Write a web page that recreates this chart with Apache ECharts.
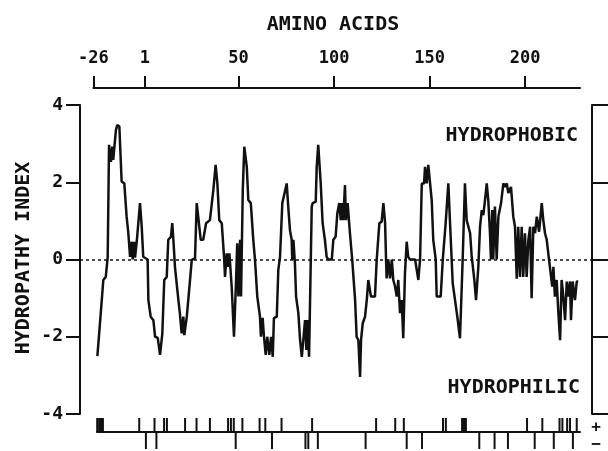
<!DOCTYPE html>
<html>
<head>
<meta charset="utf-8">
<title>Hydropathy plot</title>
<script src="https://cdn.jsdelivr.net/npm/echarts@6/dist/echarts.min.js"></script>
<style>
  html, body { margin: 0; padding: 0; background: #fff; }
  #chart { width: 608px; height: 451px; }
</style>
</head>
<body>
<div id="chart"></div>
<script>
// residue position along the chain (x) and hydropathy index (y)
const residues = [
  -23.9, -21.6, -20.8, -19.5, -18.5, -17.8, -16.8, -16.1, -15.6, -14.2,
  -13.5, -12.4, -11.2, -9.8, -8.6, -7.7, -6.8, -5.9, -5.4, -4.7,
  -4.2, -3.3, -1.6, -0.7, 0.1, 2.4, 2.8, 4.0, 5.4, 6.3,
  7.7, 8.9, 10.1, 11.1, 12.4, 13.2, 14.6, 15.3, 16.2, 16.7,
  18.5, 19.3, 20.2, 21.1, 21.6, 22.9, 24.6, 25.5, 27.2, 28.1,
  28.9, 30.2, 31.5, 33.0, 35.0, 36.8, 38.0, 38.9, 39.9, 41.2,
  42.4, 42.9, 43.8, 44.3, 45.2, 46.4, 47.6, 48.7, 49.3, 49.9,
  50.8, 51.3, 52.2, 53.0, 54.3, 55.1, 56.4, 57.7, 58.6, 59.8,
  61.2, 61.7, 62.6, 63.3, 64.2, 65.0, 66.1, 67.0, 67.9, 68.5,
  70.0, 70.8, 71.7, 72.9, 73.9, 75.2, 76.0, 76.9, 77.8, 78.1,
  78.7, 79.5, 80.1, 81.3, 82.2, 83.1, 83.9, 84.8, 85.5, 86.0,
  86.9, 88.3, 88.8, 90.4, 90.9, 91.7, 93.0, 94.0, 95.2, 96.1,
  97.0, 98.8, 99.6, 100.8, 101.7, 102.7, 103.5, 104.0, 104.8, 105.7,
  106.2, 107.1, 107.8, 108.3, 109.5, 111.0, 111.8, 112.7, 113.6, 114.1,
  115.0, 116.2, 117.1, 117.9, 119.3, 121.4, 122.3, 123.7, 124.9, 125.8,
  126.7, 127.2, 127.5, 128.4, 129.3, 130.2, 131.0, 131.9, 132.8, 133.6,
  134.5, 135.4, 136.2, 137.1, 138.0, 138.8, 139.7, 142.4, 144.1, 145.0,
  145.9, 147.1, 147.6, 148.5, 149.3, 150.2, 151.1, 151.9, 153.2, 153.7,
  155.8, 156.9, 158.4, 159.8, 160.7, 162.1, 164.5, 165.9, 167.3, 168.5,
  169.4, 171.2, 172.0, 173.4, 174.3, 175.5, 176.4, 177.3, 178.1, 179.0,
  179.9, 180.7, 181.6, 182.1, 182.8, 183.3, 184.2, 185.1, 186.0, 187.4,
  188.6, 189.5, 190.4, 191.2, 192.6, 193.8, 194.7, 195.6, 196.4, 197.3,
  198.2, 199.0, 199.9, 200.8, 201.7, 202.6, 203.4, 204.3, 205.2, 206.1,
  207.3, 208.7, 209.5, 210.4, 211.3, 212.5, 213.4, 214.2, 214.8, 215.6,
  216.5, 217.4, 218.3, 219.1, 220.0, 220.9, 221.8, 222.6, 223.5, 224.0,
  224.9, 226.1, 227.0, 227.8
];
const hydropathy = [
  -2.5, -1.05, -0.53, -0.45, 0.07, 2.97, 2.53, 2.92, 2.58, 3.35,
  3.48, 3.44, 2.02, 1.97, 1.11, 0.68, 0.07, 0.46, 0.0, 0.46,
  0.05, 0.46, 1.46, 0.85, 0.07, 0.0, -1.05, -1.48, -1.57, -2.0,
  -2.03, -2.47, -1.91, -0.53, -0.45, 0.51, 0.59, 0.94, 0.25, -0.19,
  -1.05, -1.4, -1.91, -1.48, -1.96, -1.48, -0.53, -0.01, 0.03, 1.46,
  1.5, 0.51, 0.51, 0.94, 1.02, 1.8, 2.45, 1.97, 1.02, 0.94,
  0.07, -0.45, 0.16, -0.19, 0.16, -0.7, -2.0, -0.53, 0.42, -0.96,
  0.51, -0.96, 1.8, 2.92, 2.4, 1.54, 1.46, 0.51, -0.01, -0.96,
  -1.48, -2.0, -1.51, -2.0, -2.47, -2.0, -2.47, -2.0, -2.52, -1.52,
  -1.48, -0.27, 0.07, 1.46, 1.5, 1.97, 1.37, 0.76, 0.51, -0.01,
  0.51, -0.1, -0.96, -1.39, -2.09, -2.52, -2.52, -1.57, -2.34, -1.57,
  -2.52, 1.37, 1.46, 1.5, 2.4, 2.97, 1.97, 0.94, 0.51, 0.07,
  0.0, 0.0, 0.51, 0.59, 1.2, 1.46, 1.02, 1.46, 1.02, 1.93,
  1.02, 1.46, 1.0, 0.68, -0.01, -1.05, -2.0, -2.09, -3.04, -2.09,
  -1.65, -1.48, -1.05, -0.53, -0.96, -0.96, -0.01, 0.94, 0.98, 1.46,
  0.94, -0.01, -0.49, 0.0, -0.49, 0.0, -0.53, -0.7, -0.96, -0.53,
  -1.39, -1.05, -2.04, -0.36, 0.46, 0.07, 0.0, 0.0, -0.53, 0.0,
  1.97, 1.97, 2.4, 1.97, 2.45, 2.45, 1.54, 0.51, 0.0, -0.96,
  -0.96, 0.0, 0.94, 1.97, 0.94, -0.62, -1.48, -2.04, 0.0, 1.97,
  1.02, 0.68, 0.1, -0.53, -1.05, -0.19, 0.85, 1.28, 1.15, 1.54,
  1.97, 1.54, 0.68, 0.0, 1.28, 0.0, 1.37, 0.0, 1.11, 1.46,
  1.97, 1.88, 1.97, 1.72, 1.88, 1.11, 0.85, -0.5, 0.85, -0.45,
  0.85, -0.45, 0.68, -0.45, 0.51, 0.85, -1.0, 0.85, 0.68, 1.11,
  0.72, 1.46, 1.02, 0.68, 0.51, 0.0, 0.0, -0.7, -0.19, -0.96,
  -0.53, -1.39, -2.09, -0.53, -0.96, -1.57, -0.57, -0.96, -0.57, -1.57,
  -0.57, -1.05, -0.57, -0.57
];
// charged residues, marked on the strip under the plot
const positiveCharges = [
  -24, -23, -22, -21, -2, 6, 11, 12.5, 22, 28, 35, 44.5, 46, 47.5, 52, 61, 64, 72.5,
  88.5, 122, 132, 136.5, 157, 158.5, 167, 168, 169, 201, 209, 218, 219.5, 222, 223.5, 227
];
const negativeCharges = [1.5, 7, 48.5, 67.5, 85, 86.5, 91.5, 116.5, 138, 146, 176, 184, 191, 205, 215, 225];
// tick labels
const residueTicks = [-26, 1, 50, 100, 150, 200];
const hydroMin = -4, hydroMax = 4, hydroStep = 2;

if (residues.length !== hydropathy.length) {
  throw new Error('length mismatch ' + residues.length + ' / ' + hydropathy.length);
}

const FONT = '"DejaVu Sans Mono", "Liberation Mono", monospace';
const INK = '#111';

// main plot box: x 80..592 holds residues -33..235
const PLOT_LEFT = 80, PLOT_RIGHT = 592, RES_MIN = -33, RES_MAX = 235;
const PX_PER_RES = (PLOT_RIGHT - PLOT_LEFT) / (RES_MAX - RES_MIN);
function resAt(px) { return RES_MIN + (px - PLOT_LEFT) / PX_PER_RES; }
function pxAt(res) { return PLOT_LEFT + (res - RES_MIN) * PX_PER_RES; }

const chart = echarts.init(document.getElementById('chart'), null, { renderer: 'canvas' });

const option = {
  animation: false,
  backgroundColor: '#fff',
  grid: [
    { left: PLOT_LEFT, right: 608 - PLOT_RIGHT, top: 105, bottom: 37 },
    // top residue ruler
    { left: pxAt(-26), right: 28, top: 87, height: 1 },
    // charge strip
    { left: 97, right: 28, top: 418, height: 31 }
  ],
  xAxis: [
    { gridIndex: 0, type: 'value', min: RES_MIN, max: RES_MAX, show: false },
    {
      gridIndex: 1, type: 'value', position: 'top', min: -26, max: resAt(580),
      axisLine: { show: true, lineStyle: { color: INK, width: 2 } },
      axisTick: { show: true, customValues: residueTicks, length: 12, lineStyle: { color: INK, width: 2 } },
      axisLabel: { customValues: residueTicks, margin: 20, color: INK, fontFamily: FONT, fontWeight: 'bold', fontSize: 17 },
      splitLine: { show: false }
    },
    {
      gridIndex: 2, type: 'value', min: resAt(97), max: resAt(580),
      axisLine: { show: true, onZero: true, lineStyle: { color: INK, width: 2 } },
      axisTick: { show: false },
      axisLabel: { show: false },
      splitLine: { show: false }
    }
  ],
  yAxis: [
    {
      gridIndex: 0, type: 'value', min: hydroMin, max: hydroMax, interval: hydroStep,
      axisLine: { show: true, onZero: false, lineStyle: { color: INK, width: 2 } },
      axisTick: { show: true, length: 14, lineStyle: { color: INK, width: 2 } },
      axisLabel: { margin: 17, color: INK, fontFamily: FONT, fontWeight: 'bold', fontSize: 18 },
      splitLine: { show: false }
    },
    {
      gridIndex: 0, type: 'value', position: 'right', min: hydroMin, max: hydroMax, interval: hydroStep,
      axisLine: { show: true, onZero: false, lineStyle: { color: INK, width: 2 } },
      axisTick: { show: true, length: 18, lineStyle: { color: INK, width: 2 } },
      axisLabel: { show: false },
      splitLine: { show: false }
    },
    { gridIndex: 1, type: 'value', min: 0, max: 1, show: false },
    { gridIndex: 2, type: 'value', min: -1.2, max: 1, show: false }
  ],
  series: [
    {
      type: 'line',
      xAxisIndex: 0,
      yAxisIndex: 0,
      data: residues.map((r, i) => [r, hydropathy[i]]),
      symbol: 'none',
      lineStyle: { color: INK, width: 2.5 },
      markLine: {
        silent: true,
        symbol: ['none', 'none'],
        label: { show: false },
        lineStyle: { color: INK, type: [3, 3], width: 1.5 },
        data: [{ yAxis: 0 }]
      }
    },
    {
      // + marks go up, - marks go down (a bit longer, as in the original)
      type: 'bar',
      xAxisIndex: 2,
      yAxisIndex: 3,
      barWidth: 2,
      itemStyle: { color: INK },
      data: positiveCharges.map(r => [r, 1]).concat(negativeCharges.map(r => [r, -1.2]))
    }
  ],
  graphic: [
    {
      type: 'text', x: 333, y: 25,
      style: { text: 'AMINO ACIDS', font: 'bold 20px ' + FONT, fill: INK, textAlign: 'center', textVerticalAlign: 'middle' }
    },
    {
      type: 'text', x: 24, y: 258, rotation: Math.PI / 2,
      style: { text: 'HYDROPATHY INDEX', font: 'bold 20px ' + FONT, fill: INK, textAlign: 'center', textVerticalAlign: 'middle' }
    },
    {
      type: 'text', x: 578, y: 136,
      style: { text: 'HYDROPHOBIC', font: 'bold 20px ' + FONT, fill: INK, textAlign: 'right', textVerticalAlign: 'middle' }
    },
    {
      type: 'text', x: 580, y: 388,
      style: { text: 'HYDROPHILIC', font: 'bold 20px ' + FONT, fill: INK, textAlign: 'right', textVerticalAlign: 'middle' }
    },
    {
      type: 'text', x: 596, y: 428,
      style: { text: '+', font: 'bold 16px ' + FONT, fill: INK, textAlign: 'center', textVerticalAlign: 'middle' }
    },
    {
      type: 'text', x: 596, y: 445,
      style: { text: '\u2212', font: 'bold 16px ' + FONT, fill: INK, textAlign: 'center', textVerticalAlign: 'middle' }
    }
  ]
};

chart.setOption(option);
</script>
</body>
</html>
